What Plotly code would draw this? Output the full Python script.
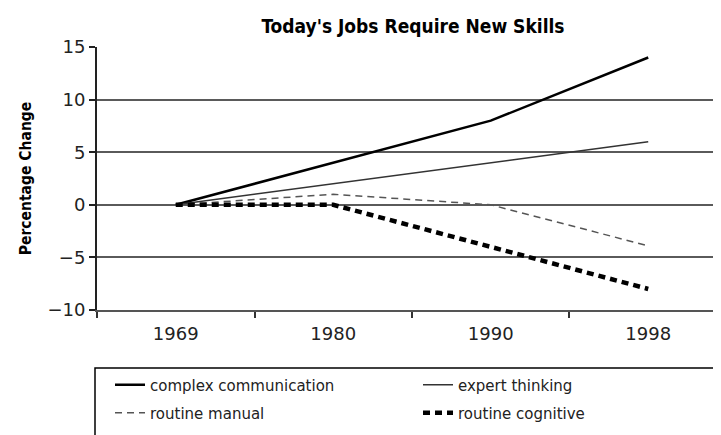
import plotly.graph_objects as go

years = ["1969", "1980", "1990", "1998"]
complex_communication = [0, 4, 8, 14]
expert_thinking = [0, 2, 4, 6]
routine_manual = [0, 1, 0, -3.9]
routine_cognitive = [0, 0, -4, -8]
y_ticks = [-10, -5, 0, 5, 10, 15]

fig = go.Figure()
fig.add_trace(go.Scatter(x=years, y=complex_communication, mode="lines", name="complex communication",
                         line=dict(color="black", width=2.5), legend="legend"))
fig.add_trace(go.Scatter(x=years, y=expert_thinking, mode="lines", name="expert thinking",
                         line=dict(color="#333333", width=1.5), legend="legend2"))
fig.add_trace(go.Scatter(x=years, y=routine_manual, mode="lines", name="routine manual",
                         line=dict(color="#555555", width=1.5, dash="7px,5px"), legend="legend3"))
fig.add_trace(go.Scatter(x=years, y=routine_cognitive, mode="lines", name="routine cognitive",
                         line=dict(color="black", width=4.5, dash="7px,5px"), legend="legend4"))

# page has an 8px body margin; figure coords = page coords - 8
OFF = 8
W, H = 721 - OFF, 435 - OFF
L0, H0, H1 = 97, 47, 310  # plot left / top / bottom in page px
ph = H1 - H0
pw = 721 - L0

def py(pix):
    return (H1 - pix) / ph

def px(pix):
    return (pix - L0) / pw

legend_font = dict(family="DejaVu Sans", size=15, color="#222222")

def leg(xpix, ypix):
    return dict(orientation="h", x=px(xpix), xanchor="left", y=py(ypix), yanchor="middle",
                font=legend_font, bgcolor="rgba(0,0,0,0)", borderwidth=0)

fig.update_layout(
    width=W, height=H,
    margin=dict(l=L0 - OFF, r=0, t=H0 - OFF, b=H - (H1 - OFF), pad=0),
    paper_bgcolor="white", plot_bgcolor="white",
    title=dict(text="<b>Today's Jobs Require New Skills</b>", x=(413 - OFF) / W, xref="container",
               xanchor="center", y=1 - (26 - OFF) / H, yref="container", yanchor="middle",
               font=dict(family="DejaVu Sans Condensed, DejaVu Sans", size=19, color="black")),
    showlegend=True,
    legend=leg(110, 385),
    legend2=leg(418, 385),
    legend3=leg(110, 413),
    legend4=leg(418, 413),
    xaxis=dict(type="category", range=[-0.5, 3.462], showgrid=False, zeroline=False,
               showline=True, linecolor="#555555", linewidth=2,
               ticks="outside", tickson="boundaries", ticklen=6, tickwidth=2, tickcolor="#333333",
               ticklabelstandoff=6,
               tickfont=dict(family="DejaVu Sans", size=18, color="#222222")),
    yaxis=dict(range=[-10, 15], tickvals=y_ticks, showgrid=True, gridcolor="#5a5a5a", gridwidth=2,
               zeroline=False, showline=True, linecolor="#222222", linewidth=2,
               ticks="outside", ticklen=6, tickwidth=2, tickcolor="#222222",
               tickfont=dict(family="DejaVu Sans", size=18, color="#222222"),
               title=dict(text="<b>Percentage Change</b>", standoff=12,
                          font=dict(family="DejaVu Sans Condensed, DejaVu Sans", size=15.5, color="black"))),
    shapes=[dict(type="rect", xref="paper", yref="paper", x0=px(95), x1=1.02,
                 y0=-0.6, y1=py(368), line=dict(color="black", width=1.5), fillcolor="rgba(0,0,0,0)")],
)

fig.write_html("out.html")
